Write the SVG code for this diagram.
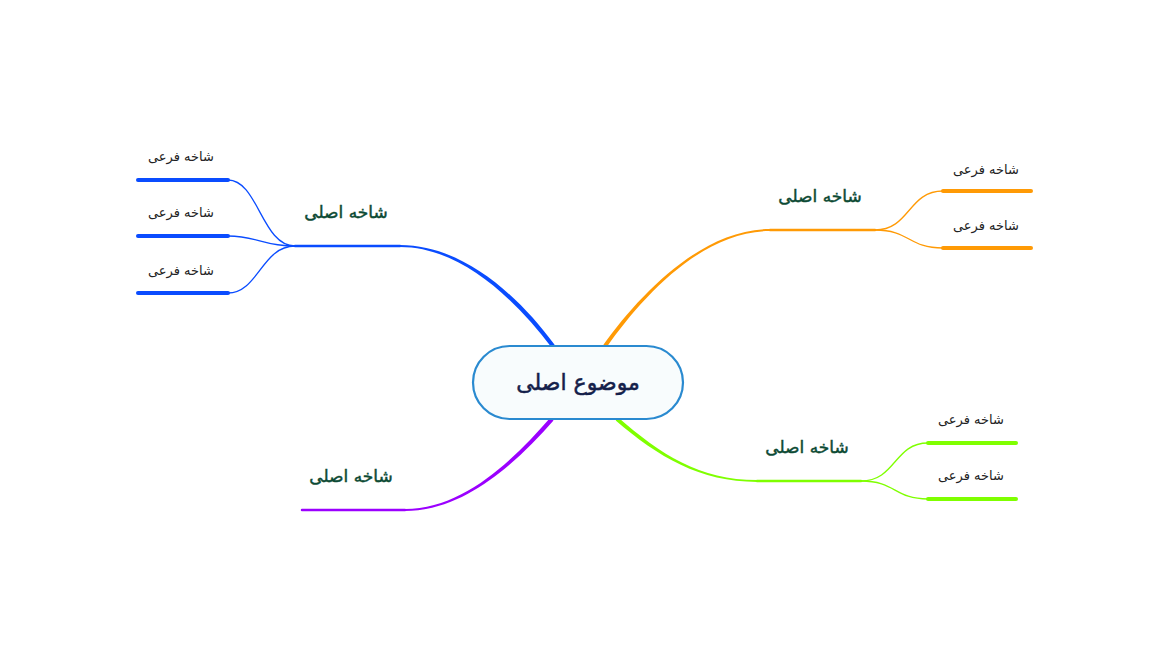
<svg xmlns="http://www.w3.org/2000/svg" width="1168" height="648" viewBox="0 0 1168 648">
<style>
text{font-family:"DejaVu Sans","Noto Sans",sans-serif;text-anchor:middle;direction:rtl}
.main{font-size:17px;fill:#0c4a34;stroke:#0c4a34;stroke-width:0.45}
.sub{font-size:13px;fill:#222}
.center{font-size:22px;fill:#14204a;stroke:#14204a;stroke-width:0.5}
.thin{fill:none;stroke-width:1.3}
.ul{fill:none;stroke-width:2.5;stroke-linecap:round}
.sul{fill:none;stroke-width:4;stroke-linecap:round}
.blue{stroke:#0a4cff}.orange{stroke:#ff9a05}.green{stroke:#7fff00}.purple{stroke:#9b00ff}
</style>
<rect width="1168" height="648" fill="#ffffff"/>
<g id="connectors">
  <path d="M554.6,344.8 C517,294 462,245 400,245 L400,247 C460,247 513,297 551.4,347.2 Z" fill="#0a4cff"/>
  <path d="M603.4,344.8 C640,294 702,229 770,229 L770,231 C702,231 642,297 606.6,347.2 Z" fill="#ff9a05"/>
  <path d="M618.3,417.4 C660,454 700,480 757,480 L757,482 C700,482 658,457 615.7,420.6 Z" fill="#7fff00"/>
  <path d="M550.5,417.6 C515,458 465,509 405,509 L405,511 C465,511 517,462 553.5,420.4 Z" fill="#9b00ff"/>
  <line x1="295" y1="246" x2="400" y2="246" class="ul blue"/>
  <line x1="770" y1="230" x2="875" y2="230" class="ul orange"/>
  <line x1="757" y1="481" x2="861" y2="481" class="ul green"/>
  <line x1="302" y1="510" x2="405" y2="510" class="ul purple"/>
  <path d="M295,246 C262,246 258,180 228,180" class="thin blue"/>
  <path d="M295,246 C262,246 258,236 228,236" class="thin blue"/>
  <path d="M295,246 C262,246 258,293 228,293" class="thin blue"/>
  <path d="M875,230 C910,230 908,191 943,191" class="thin orange"/>
  <path d="M875,230 C910,230 908,248 943,248" class="thin orange"/>
  <path d="M861,481 C896,481 894,443 928,443" class="thin green"/>
  <path d="M861,481 C896,481 894,499 928,499" class="thin green"/>
  <line x1="138" y1="180" x2="228" y2="180" class="sul blue"/>
  <line x1="138" y1="236" x2="228" y2="236" class="sul blue"/>
  <line x1="138" y1="293" x2="228" y2="293" class="sul blue"/>
  <line x1="943" y1="191" x2="1031" y2="191" class="sul orange"/>
  <line x1="943" y1="248" x2="1031" y2="248" class="sul orange"/>
  <line x1="928" y1="443" x2="1016" y2="443" class="sul green"/>
  <line x1="928" y1="499" x2="1016" y2="499" class="sul green"/>
</g>
<g id="center">
  <rect x="473" y="346" width="210" height="73" rx="36.5" fill="#f8fcfd" stroke="#2a8ad0" stroke-width="2.2"/>
  <text x="578" y="390" class="center">موضوع اصلی</text>
</g>
<g id="main-blue"><text x="346" y="218" class="main">شاخه اصلی</text></g>
<g id="main-orange"><text x="820" y="202" class="main">شاخه اصلی</text></g>
<g id="main-green"><text x="807" y="453" class="main">شاخه اصلی</text></g>
<g id="main-purple"><text x="351" y="482" class="main">شاخه اصلی</text></g>
<g id="sub-blue-1"><text x="181" y="161" class="sub">شاخه فرعی</text></g>
<g id="sub-blue-2"><text x="181" y="217" class="sub">شاخه فرعی</text></g>
<g id="sub-blue-3"><text x="181" y="275" class="sub">شاخه فرعی</text></g>
<g id="sub-orange-1"><text x="986" y="174" class="sub">شاخه فرعی</text></g>
<g id="sub-orange-2"><text x="986" y="230" class="sub">شاخه فرعی</text></g>
<g id="sub-green-1"><text x="971" y="424" class="sub">شاخه فرعی</text></g>
<g id="sub-green-2"><text x="971" y="480" class="sub">شاخه فرعی</text></g>
</svg>
